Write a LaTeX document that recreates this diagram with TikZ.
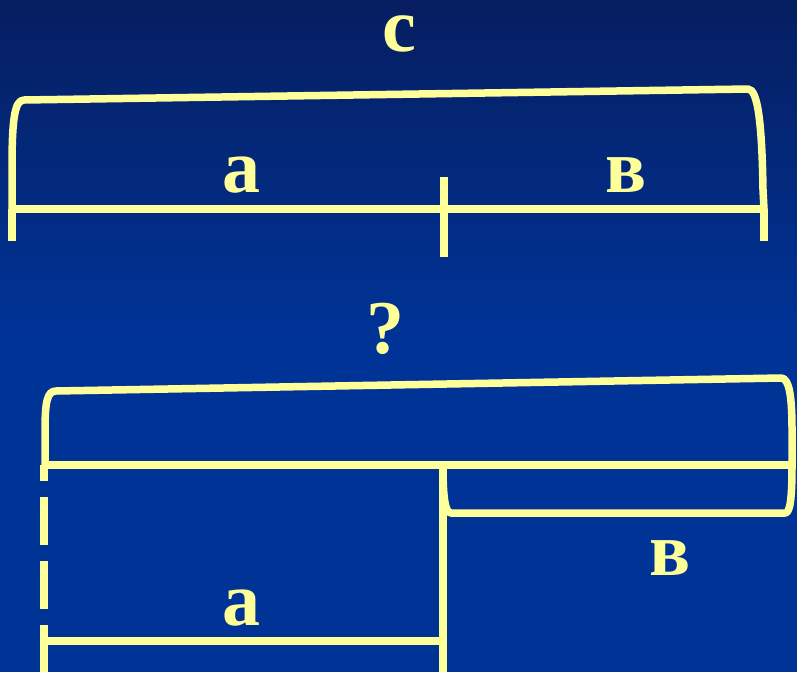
\documentclass[tikz,border=0pt]{standalone}
\usepackage{fontspec}
\setmainfont{Liberation Serif}
\definecolor{ylw}{RGB}{255,255,153}
\definecolor{bgtop}{RGB}{6,30,96}
\definecolor{bgbot}{RGB}{0,51,150}
\tikzset{
  ln/.style={draw=ylw, line width=7.5pt, line cap=butt, line join=round},
  lbl/.style={text=ylw, font=\bfseries\fontsize{76}{80}\selectfont, anchor=base, inner sep=0pt},
}
\begin{document}
\begin{tikzpicture}[x=1pt,y=-1pt]
\useasboundingbox (0,0) rectangle (797,672);
\shade[top color=bgtop, bottom color=bgbot] (0,0) rectangle (797,330);
\fill[bgbot] (0,329) rectangle (797,672);
% top part coordinates
\coordinate (tl) at (12,209);
\coordinate (tm) at (444,209);
\coordinate (tr) at (764,209);
\coordinate (tlb) at (12,241);
\coordinate (trb) at (764,241);
\coordinate (tmt) at (444,177);
\coordinate (tmb) at (444,257);
% top brace
\draw[ln] (tl) -- (12,170) .. controls (12,122) and (14,100) .. (24,100) -- (748,89) .. controls (758,89) and (762,125) .. (763,190) -- (tr);
\draw[ln] (9,209) -- (767,209);
\draw[ln] (tl) -- (tlb);
\draw[ln] (tr) -- (trb);
\draw[ln] (tmt) -- (tmb);
\node[lbl, text height=38pt, text depth=0pt] (c) at (399,51) {c};
\node[lbl] (a1) at (241,192) {a};
\node[lbl] (b1) at (626,192) {в};
% bottom part
\coordinate (bl) at (45,465);
\coordinate (bm) at (443,465);
\coordinate (br) at (792,465);
\coordinate (bmb) at (443,672);
\coordinate (al) at (44,641);
\coordinate (ar) at (443,641);
\draw[ln] (bl) -- (45,432) .. controls (45,402) and (47,391) .. (56,391) -- (781,378) .. controls (789,378) and (792,395) .. (792,430) -- (br);
\draw[ln] (bm) .. controls (443,490) and (444,513) .. (451,513) -- (785,513) .. controls (790,513) and (792,500) .. (br);
\draw[ln] (42,465) -- (795,465);
\draw[ln] (bm) -- (bmb);
\draw[ln] (al) -- (ar);
\draw[ln, dash pattern=on 48pt off 16pt, dash phase=32pt] (44,465) -- (44,672);
\node[lbl] (q) at (385,353) {?};
\node[lbl] (b2) at (670,575) {в};
\node[lbl] (a2) at (241,625) {a};
\end{tikzpicture}
\end{document}
